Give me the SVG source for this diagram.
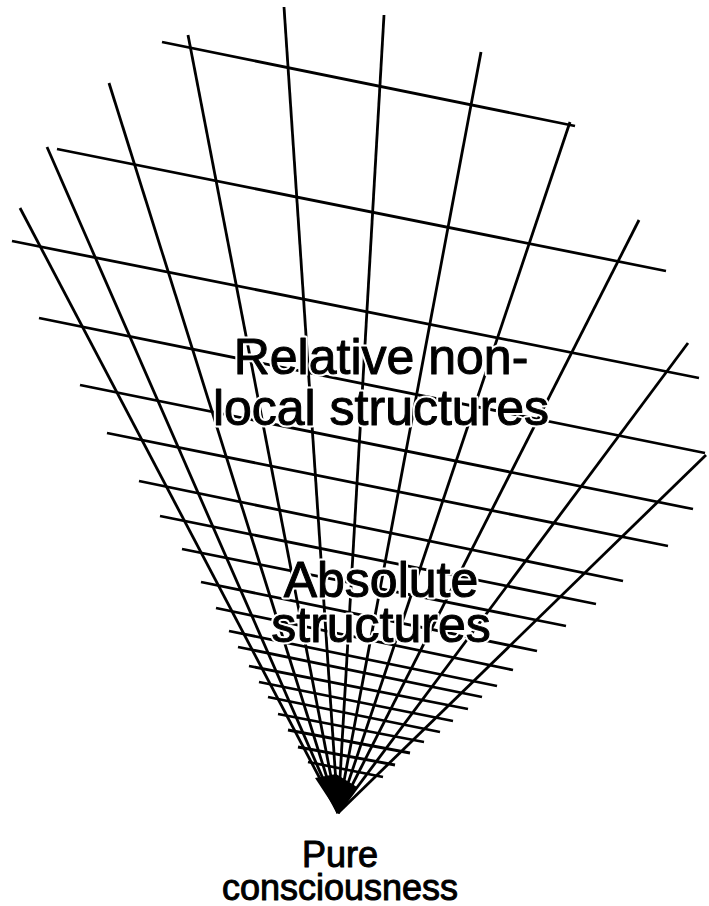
<svg xmlns="http://www.w3.org/2000/svg" width="709" height="906" viewBox="0 0 709 906">
<style>
.r,.c{stroke:#000;stroke-width:2.8;fill:none;stroke-linecap:butt}
.lbl{font-family:"Liberation Sans",Arial,sans-serif;text-anchor:middle;stroke-linejoin:round}
.halo{fill:#fff;stroke:#fff;stroke-width:5}
.ink{fill:#000;stroke:#000;stroke-width:1}
.big{font-size:50px}
.small{font-size:36px}
</style>
<defs>
<text id="t1" class="lbl big" x="381" y="374">Relative non-</text>
<text id="t2" class="lbl big" x="381" y="425">local structures</text>
<text id="t3" class="lbl big" x="381" y="597">Absolute</text>
<text id="t4" class="lbl big" x="381" y="642">structures</text>
<text id="t5" class="lbl small" x="340" y="867">Pure</text>
<text id="t6" class="lbl small" x="340" y="900">consciousness</text>
</defs>
<rect width="709" height="906" fill="#fff"/>
<g id="connectors">
<g id="radial">
<line class="r" x1="338" y1="813" x2="20" y2="208"/>
<line class="r" x1="338" y1="813" x2="47" y2="147"/>
<line class="r" x1="338" y1="813" x2="109" y2="83"/>
<line class="r" x1="338" y1="813" x2="188" y2="35"/>
<line class="r" x1="338" y1="813" x2="284" y2="7"/>
<line class="r" x1="338" y1="813" x2="384" y2="15"/>
<line class="r" x1="338" y1="813" x2="481" y2="52"/>
<line class="r" x1="338" y1="813" x2="570" y2="122"/>
<line class="r" x1="338" y1="813" x2="639" y2="220"/>
<line class="r" x1="338" y1="813" x2="688" y2="343"/>
<line class="r" x1="338" y1="813" x2="706" y2="455"/>
</g>
<g id="cross">
<line class="c" x1="162" y1="42" x2="575" y2="126"/>
<line class="c" x1="57" y1="149" x2="666" y2="271"/>
<line class="c" x1="12" y1="241" x2="699" y2="378"/>
<line class="c" x1="39" y1="318" x2="705" y2="453"/>
<line class="c" x1="80" y1="385" x2="693" y2="509"/>
<line class="c" x1="107" y1="433" x2="668" y2="546"/>
<line class="c" x1="139" y1="481" x2="623" y2="581"/>
<line class="c" x1="160" y1="516" x2="596" y2="604"/>
<line class="c" x1="182" y1="549" x2="566" y2="626"/>
<line class="c" x1="201" y1="582" x2="537" y2="651"/>
<line class="c" x1="216" y1="608" x2="513" y2="670"/>
<line class="c" x1="229" y1="631" x2="497" y2="686"/>
<line class="c" x1="238" y1="647" x2="482" y2="697"/>
<line class="c" x1="249" y1="666" x2="468" y2="709"/>
<line class="c" x1="259" y1="682" x2="453" y2="721"/>
<line class="c" x1="268" y1="697" x2="440" y2="732"/>
<line class="c" x1="278" y1="714" x2="424" y2="742"/>
<line class="c" x1="288" y1="730" x2="410" y2="753"/>
<line class="c" x1="298" y1="747" x2="395" y2="765"/>
<line class="c" x1="308" y1="762" x2="383" y2="777"/>
</g>
<polygon id="apex" points="315,778 336,774 357,787 338,813" fill="#000"/>
</g>
<g id="relative">
<use href="#t1" class="halo"/><use href="#t2" class="halo"/>
<use href="#t1" class="ink"/><use href="#t2" class="ink"/>
</g>
<g id="absolute">
<use href="#t3" class="halo"/><use href="#t4" class="halo"/>
<use href="#t3" class="ink"/><use href="#t4" class="ink"/>
</g>
<g id="pure">
<use href="#t5" class="ink"/><use href="#t6" class="ink"/>
</g>
</svg>
